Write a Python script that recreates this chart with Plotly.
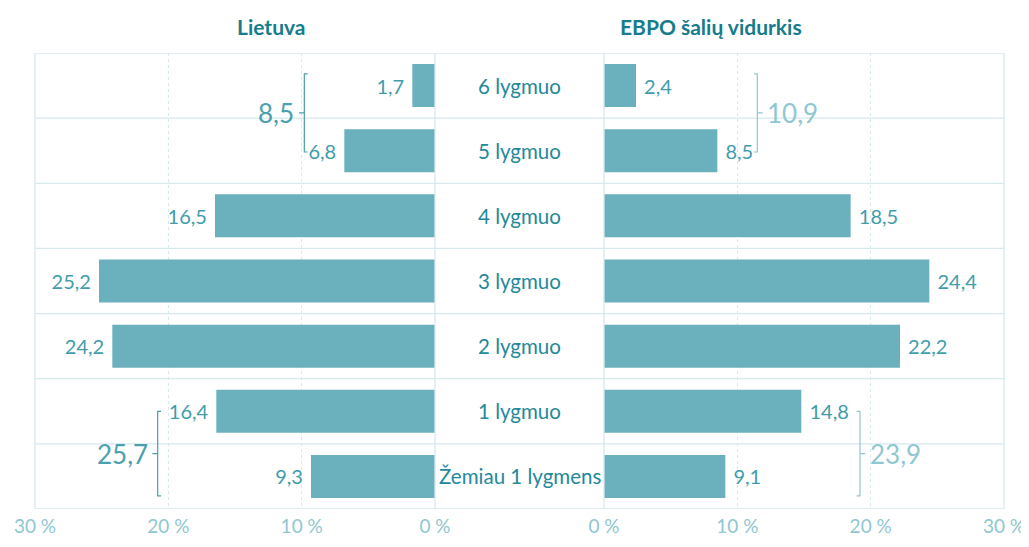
import plotly.graph_objects as go

categories = ["6 lygmuo", "5 lygmuo", "4 lygmuo", "3 lygmuo", "2 lygmuo", "1 lygmuo", "Žemiau 1 lygmens"]
lietuva = [1.7, 6.8, 16.5, 25.2, 24.2, 16.4, 9.3]
ebpo = [2.4, 8.5, 18.5, 24.4, 22.2, 14.8, 9.1]
tick_vals = [0, 10, 20, 30]
tick_text = ["0 %", "10 %", "20 %", "30 %"]
titles = ["Lietuva", "EBPO šalių vidurkis"]
# grouped sums: (label, side, categories grouped)
groups = [("8,5", "left", [0, 1]), ("10,9", "right", [0, 1]),
          ("25,7", "left", [5, 6]), ("23,9", "right", [5, 6])]

# page body has an 8px margin; figure sized to fit the 1029x547 window
PAD = 8
W, H = 1029 - PAD, 547 - PAD
FONT = "Lato"
BAR = "#6bb1bd"
VAL = "#3f9dab"
CAT = "#23899a"
TITLE = "#167c8d"
LINE = "#d6e9ed"
BR_L = "#4aa0ae"
BR_R = "#8fc7d0"


def px(x):
    return (x - PAD) / W


def py(y):
    return 1 - (y - PAD) / H


n = len(categories)
ypos = [n - 1 - i for i in range(n)]
NB = "\u00a0"


def fmt(v):
    return f"{v:.1f}".replace(".", ",")


fig = go.Figure()
fig.add_trace(go.Bar(x=lietuva, y=ypos, orientation="h", marker=dict(color=BAR, line=dict(width=0)),
                     width=0.66, text=[fmt(v) + NB for v in lietuva], textposition="outside",
                     textfont=dict(color=VAL, size=20, family=FONT), cliponaxis=False,
                     xaxis="x", yaxis="y", hoverinfo="skip"))
fig.add_trace(go.Bar(x=ebpo, y=ypos, orientation="h", marker=dict(color=BAR, line=dict(width=0)),
                     width=0.66, text=[NB + fmt(v) for v in ebpo], textposition="outside",
                     textfont=dict(color=VAL, size=20, family=FONT), cliponaxis=False,
                     xaxis="x2", yaxis="y2", hoverinfo="skip"))

x1d = [px(35), px(435)]
x2d = [px(604), px(1004)]
yd = [py(509), py(53)]

axis_common = dict(tickvals=tick_vals, ticktext=tick_text, showgrid=True, gridcolor=LINE,
                   griddash="dot", gridwidth=1, zeroline=False, showline=False, ticks="",
                   tickfont=dict(size=19, color=BR_R, family=FONT), ticklabelstandoff=4,
                   automargin=False)
fig.update_layout(
    width=W, height=H, margin=dict(l=0, r=0, t=0, b=0, autoexpand=False), showlegend=False,
    plot_bgcolor="white", paper_bgcolor="white", bargap=0.34,
    xaxis=dict(domain=x1d, range=[30, 0], anchor="y", **axis_common),
    xaxis2=dict(domain=x2d, range=[0, 30], anchor="y2", **axis_common),
    yaxis=dict(domain=yd, range=[-0.5, n - 0.5], showticklabels=False, showgrid=False, zeroline=False,
               automargin=False),
    yaxis2=dict(domain=yd, range=[-0.5, n - 0.5], showticklabels=False, showgrid=False, zeroline=False,
                anchor="x2", automargin=False),
)

shapes = []
# outer border and vertical separators
for xp in [35, 435, 604, 1004]:
    shapes.append(dict(type="line", xref="paper", yref="paper", x0=px(xp), x1=px(xp), y0=yd[0], y1=yd[1],
                       line=dict(color=LINE, width=1.3), layer="above"))
for yv in [-0.5] + [k + 0.5 for k in range(n)]:
    shapes.append(dict(type="line", xref="paper", yref="y", x0=px(35), x1=px(1004), y0=yv, y1=yv,
                       line=dict(color=LINE, width=1.3), layer="below"))

annotations = []
for t, dom in zip(titles, [x1d, x2d]):
    annotations.append(dict(text=f"<b>{t}</b>", x=(dom[0] + dom[1]) / 2, y=py(27), xref="paper",
                            yref="paper", yanchor="middle", showarrow=False,
                            font=dict(size=21, color=TITLE, family=FONT)))
for c, yv in zip(categories, ypos):
    annotations.append(dict(text=c, x=px(519.5), y=yv, xref="paper", yref="y", showarrow=False,
                            font=dict(size=20.5, color=CAT, family=FONT)))

# brackets
for label, side, idx in groups:
    vals = lietuva if side == "left" else ebpo
    xr = "x" if side == "left" else "x2"
    vmax = max(vals[i] for i in idx)
    is_top = idx[0] == 0
    off = 3.0 if is_top else 4.4
    bx = vmax + off
    ytop = ypos[idx[0]] + (0.18 if is_top else 0.0)
    ybot = ypos[idx[-1]] - (0.02 if is_top else 0.3)
    ymid = (ytop + ybot) / 2
    hook = 0.25
    tick = 0.4
    # hooks point toward bars (smaller x), tick points away (larger x)
    path = (f"M {bx - hook},{ytop} L {bx},{ytop} L {bx},{ybot} L {bx - hook},{ybot} "
            f"M {bx},{ymid} L {bx + tick},{ymid}")
    col = BR_L if side == "left" else BR_R
    shapes.append(dict(type="path", xref=xr, yref="y", path=path, line=dict(color=col, width=1.2),
                       layer="above"))
    annotations.append(dict(text=label, x=bx + tick + 0.2, y=ymid, xref=xr, yref="y", showarrow=False,
                            xanchor="right" if side == "left" else "left",
                            font=dict(size=26, color=col, family=FONT)))

fig.update_layout(shapes=shapes, annotations=annotations)
fig.write_html("out.html")
